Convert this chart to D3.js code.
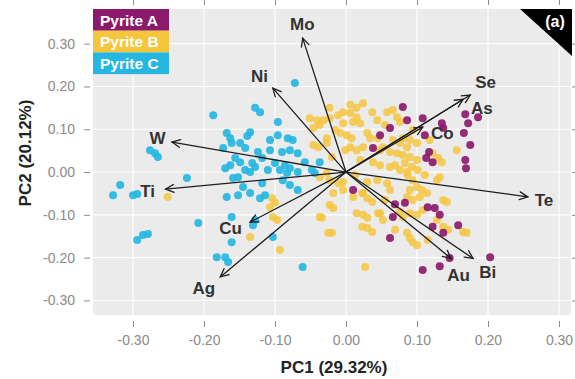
<!DOCTYPE html>
<html>
<head>
<meta charset="utf-8">
<script src="https://cdn.jsdelivr.net/npm/d3@7"></script>
<style>
  html, body { margin: 0; padding: 0; background: #fff; }
  svg { display: block; font-family: "Liberation Sans", Arial, sans-serif; }
</style>
</head>
<body>
<svg id="chart" width="575" height="379"></svg>
<script>
// PCA scores (PC1, PC2) per pyrite type
const pyriteA = [[0.080,0.152],[0.086,0.121],[0.108,0.126],[0.135,0.114],[0.137,0.103],[0.111,0.086],[0.168,0.135],[0.172,0.114],[0.186,0.128],[0.166,0.091],[0.175,0.063],[0.117,0.047],[0.122,0.023],[0.113,0.033],[0.168,0.028],[0.169,0.009],[0.069,-0.075],[0.083,-0.072],[0.115,-0.082],[0.125,-0.084],[0.132,-0.100],[0.066,-0.105],[0.122,-0.128],[0.137,-0.142],[0.158,-0.124],[0.062,-0.154],[0.108,-0.229],[0.132,-0.220],[0.146,-0.201],[0.203,-0.199],[0.062,0.103],[0.048,0.086],[0.038,0.056],[0.010,-0.042]];

const pyriteB = [[0.024,0.161],[0.037,0.140],[-0.004,0.140],[0.006,0.138],[0.015,0.128],[-0.041,0.121],[-0.032,0.121],[-0.023,0.126],[-0.004,0.114],[0.010,0.117],[0.020,0.114],[0.058,0.140],[0.066,0.145],[-0.046,0.063],[-0.039,0.058],[-0.015,0.098],[-0.008,0.091],[0.001,0.086],[0.008,0.079],[0.030,0.091],[0.034,0.079],[0.045,0.079],[0.006,0.058],[0.015,0.051],[0.024,0.058],[0.052,0.058],[0.062,0.047],[0.072,0.044],[0.080,0.040],[0.076,0.068],[0.086,0.058],[0.038,0.023],[0.048,0.016],[0.062,0.012],[0.076,0.005],[0.086,0.000],[-0.023,-0.019],[-0.011,-0.026],[-0.004,-0.042],[0.030,-0.023],[0.044,-0.019],[0.024,-0.049],[0.030,-0.061],[0.037,-0.070],[0.058,-0.026],[0.062,-0.042],[-0.023,-0.077],[-0.018,-0.084],[-0.037,-0.105],[0.015,-0.096],[0.024,-0.100],[0.030,-0.107],[0.048,-0.096],[0.052,-0.112],[0.023,-0.128],[0.030,-0.131],[0.037,-0.140],[-0.020,-0.142],[0.076,-0.093],[0.080,-0.105],[0.072,0.128],[0.076,0.117],[0.080,0.079],[0.066,0.075],[0.094,0.098],[0.090,0.075],[0.100,0.068],[0.090,0.035],[0.100,0.028],[0.083,0.021],[0.093,0.012],[0.101,0.005],[0.087,-0.007],[0.094,-0.019],[0.122,0.044],[0.130,0.033],[0.135,0.023],[0.156,0.051],[0.132,-0.012],[0.128,-0.019],[0.090,-0.042],[0.100,-0.035],[0.107,-0.042],[0.086,-0.058],[0.094,-0.065],[0.104,-0.058],[0.114,-0.049],[0.108,-0.089],[0.100,-0.100],[0.090,-0.096],[0.137,-0.065],[0.142,-0.070],[0.128,-0.112],[0.137,-0.128],[0.144,-0.135],[0.170,-0.142],[0.086,-0.142],[0.090,-0.154],[0.094,-0.164],[0.100,-0.171],[-0.051,0.126],[-0.037,0.110],[-0.046,0.103],[-0.027,0.068],[-0.001,0.051],[-0.104,-0.061],[-0.100,-0.072],[-0.107,-0.082],[-0.103,-0.105],[-0.097,-0.112],[-0.135,-0.152],[-0.093,-0.182],[-0.034,-0.107],[-0.023,0.150],[-0.011,0.133],[0.006,0.157],[0.015,0.150],[0.044,0.121],[-0.027,0.079],[-0.020,0.035],[-0.037,-0.012],[-0.027,-0.002],[-0.004,-0.023],[-0.018,-0.049],[0.010,-0.058],[0.023,-0.049],[-0.025,-0.142],[0.027,-0.222],[0.045,-0.096],[0.165,-0.140],[-0.251,-0.058],[0.055,0.110],[0.048,0.051],[0.069,0.016],[0.020,0.028],[0.013,-0.007],[0.055,-0.065],[0.069,-0.135],[0.115,-0.159],[0.111,-0.007],[0.118,0.075]];

const pyriteC = [[-0.328,-0.054],[-0.318,-0.030],[-0.300,-0.054],[-0.294,-0.051],[-0.276,0.051],[-0.269,0.044],[-0.265,0.035],[-0.294,-0.159],[-0.286,-0.147],[-0.279,-0.145],[-0.224,-0.014],[-0.208,-0.119],[-0.187,0.133],[-0.072,0.208],[-0.128,0.150],[-0.121,0.140],[-0.096,0.117],[-0.135,0.093],[-0.139,0.084],[-0.168,0.091],[-0.163,0.079],[-0.161,0.068],[-0.096,0.086],[-0.082,0.079],[-0.075,0.075],[-0.173,0.056],[-0.142,0.056],[-0.124,0.047],[-0.107,0.051],[-0.090,0.047],[-0.079,0.051],[-0.068,0.044],[-0.156,0.033],[-0.149,0.023],[-0.163,0.016],[-0.170,0.009],[-0.132,0.021],[-0.128,0.012],[-0.100,0.021],[-0.086,0.016],[-0.079,0.009],[-0.093,0.005],[-0.083,-0.002],[-0.142,0.005],[-0.135,0.000],[-0.159,-0.014],[-0.152,-0.012],[-0.037,0.023],[-0.048,0.005],[-0.044,-0.002],[-0.068,0.000],[-0.079,-0.030],[-0.068,-0.042],[-0.168,-0.058],[-0.152,-0.054],[-0.135,-0.049],[-0.121,-0.061],[-0.114,-0.054],[-0.161,-0.105],[-0.131,-0.124],[-0.161,-0.164],[-0.103,-0.152],[-0.061,-0.222],[-0.170,-0.199],[-0.166,-0.210],[-0.182,-0.199],[-0.128,-0.112],[-0.118,0.033],[-0.110,0.005],[-0.118,-0.026],[-0.145,-0.035],[-0.058,0.023],[-0.089,-0.019],[-0.107,0.075],[-0.149,0.068]];

// Variable loadings (arrow tips)
const loadingNames = ["Mo","Ni","W","Ti","Cu","Ag","Se","As","Co","Te","Au","Bi"];
const loadingPC1 = [-0.061,-0.103,-0.245,-0.254,-0.135,-0.177,0.175,0.165,0.108,0.256,0.148,0.179];
const loadingPC2 = [0.313,0.196,0.070,-0.040,-0.117,-0.245,0.180,0.170,0.105,-0.058,-0.202,-0.202];

const groupNames = ["Pyrite A","Pyrite B","Pyrite C"];
const xTicks = [-0.3,-0.2,-0.1,0,0.1,0.2,0.3];
const yTicks = [-0.3,-0.2,-0.1,0,0.1,0.2,0.3];
const xTitle = "PC1 (29.32%)";
const yTitle = "PC2 (20.12%)";
const panelTag = "(a)";

// ---- styling ----
const colors = {"Pyrite A": "#8c1a6c", "Pyrite B": "#f5c53c", "Pyrite C": "#26b6e2"};
const labelNudge = {Mo:[4,-1],Ni:[-6,-4],W:[3,-1],Ti:[0,0],Cu:[-10,1],Ag:[-4,0],
                    Se:[3,-5],As:[7,16],Co:[12,10],Te:[-2,1],Au:[-3,8],Bi:[2,5]};

const panel = {left: 93, right: 571, top: 9, bottom: 315};
const svg = d3.select("#chart");

const x = d3.scaleLinear().domain([-0.3563, 0.3169]).range([panel.left, panel.right]);
const y = d3.scaleLinear().domain([-0.334, 0.381]).range([panel.bottom, panel.top]);
const fmt = v => (Math.abs(v) < 1e-9 ? 0 : v).toFixed(2);

// panel background
svg.append("rect")
  .attr("x", panel.left).attr("y", panel.top)
  .attr("width", panel.right - panel.left).attr("height", panel.bottom - panel.top)
  .attr("rx", 3).attr("fill", "#ebebeb");

// grid
const grid = svg.append("g").attr("stroke", "#fff").attr("stroke-width", 1.1);
grid.selectAll(".gx").data(xTicks).join("line")
  .attr("x1", d => x(d)).attr("x2", d => x(d))
  .attr("y1", panel.top).attr("y2", panel.bottom);
grid.selectAll(".gy").data(yTicks).join("line")
  .attr("y1", d => y(d)).attr("y2", d => y(d))
  .attr("x1", panel.left).attr("x2", panel.right);

// axes
function styleAxis(g) {
  g.select(".domain").remove();
  g.selectAll(".tick line").attr("stroke", "#8a8a8a").attr("stroke-width", 1);
  g.selectAll(".tick text").attr("fill", "#8a8a8a").attr("font-size", 14)
    .attr("font-family", "'Liberation Sans', Arial, sans-serif");
}
svg.append("g").attr("transform", `translate(0,${panel.bottom + 6})`)
  .call(d3.axisBottom(x).tickValues(xTicks).tickFormat(fmt).tickSize(6).tickPadding(8))
  .call(styleAxis);
svg.append("g").attr("transform", `translate(${panel.left - 3},0)`)
  .call(d3.axisLeft(y).tickValues(yTicks).tickFormat(fmt).tickSize(6).tickPadding(9))
  .call(styleAxis);
svg.append("g").attr("transform", `translate(0,5)`)
  .call(d3.axisTop(x).tickValues(xTicks).tickFormat("").tickSize(5))
  .call(styleAxis);
svg.append("g").attr("transform", `translate(${panel.right + 1},0)`)
  .call(d3.axisRight(y).tickValues(yTicks).tickFormat("").tickSize(3))
  .call(styleAxis);

// axis titles
svg.append("text")
  .attr("x", 334).attr("y", 373).attr("text-anchor", "middle")
  .attr("font-size", 17).attr("font-weight", "bold").attr("fill", "#222")
  .text(xTitle);
svg.append("text")
  .attr("transform", `translate(31,153) rotate(-90)`).attr("text-anchor", "middle")
  .attr("font-size", 17).attr("font-weight", "bold").attr("fill", "#222")
  .text(yTitle);

// score points
const pts = svg.append("g");
[["Pyrite B", pyriteB], ["Pyrite C", pyriteC], ["Pyrite A", pyriteA]].forEach(([name, arr]) => {
  pts.append("g").selectAll("circle").data(arr).join("circle")
    .attr("cx", d => x(d[0])).attr("cy", d => y(d[1]))
    .attr("r", 4)
    .attr("fill", colors[name])
    .attr("fill-opacity", name === "Pyrite B" ? 0.82 : 0.92);
});

// loading arrows
const loadings = loadingNames.map((n, i) => ({name: n, pc1: loadingPC1[i], pc2: loadingPC2[i]}));
const arrows = svg.append("g").attr("stroke", "#1e1e1e").attr("stroke-width", 1.3)
  .attr("fill", "none").attr("stroke-linecap", "round");
const x0 = x(0), y0 = y(0);
loadings.forEach(d => {
  const tx = x(d.pc1), ty = y(d.pc2);
  const ang = Math.atan2(ty - y0, tx - x0);
  const L = 9, spread = 0.45;
  const a1 = ang + Math.PI - spread, a2 = ang + Math.PI + spread;
  arrows.append("line").attr("x1", x0).attr("y1", y0).attr("x2", tx).attr("y2", ty);
  arrows.append("path").attr("d",
    `M${tx + L * Math.cos(a1)},${ty + L * Math.sin(a1)}L${tx},${ty}L${tx + L * Math.cos(a2)},${ty + L * Math.sin(a2)}`);
});

// loading labels
svg.append("g").selectAll("text").data(loadings).join("text")
  .attr("x", d => x(d.pc1 * 1.1) + labelNudge[d.name][0])
  .attr("y", d => y(d.pc2 * 1.1) + labelNudge[d.name][1])
  .attr("dy", "0.36em")
  .attr("text-anchor", "middle")
  .attr("font-size", 17).attr("font-weight", "bold").attr("fill", "#333")
  .text(d => d.name);

// legend
const leg = svg.append("g").attr("transform", `translate(${panel.left},${panel.top})`);
groupNames.forEach((g, i) => {
  leg.append("rect").attr("x", 0).attr("y", i * 21.7).attr("width", 76).attr("height", 21.7)
    .attr("fill", colors[g]);
  leg.append("text").attr("x", 7).attr("y", i * 21.7 + 11).attr("dy", "0.36em")
    .attr("font-size", 15.5).attr("font-weight", "bold").attr("fill", "#fff")
    .text(g);
});

// corner tag
svg.append("path")
  .attr("d", `M${panel.right - 51},${panel.top}L${panel.right + 1},${panel.top}L${panel.right + 1},${panel.top + 47}Z`)
  .attr("fill", "#000");
svg.append("text")
  .attr("x", 555).attr("y", 21).attr("dy", "0.36em").attr("text-anchor", "middle")
  .attr("font-size", 16).attr("font-weight", "bold").attr("fill", "#fff")
  .text(panelTag);
</script>
</body>
</html>
